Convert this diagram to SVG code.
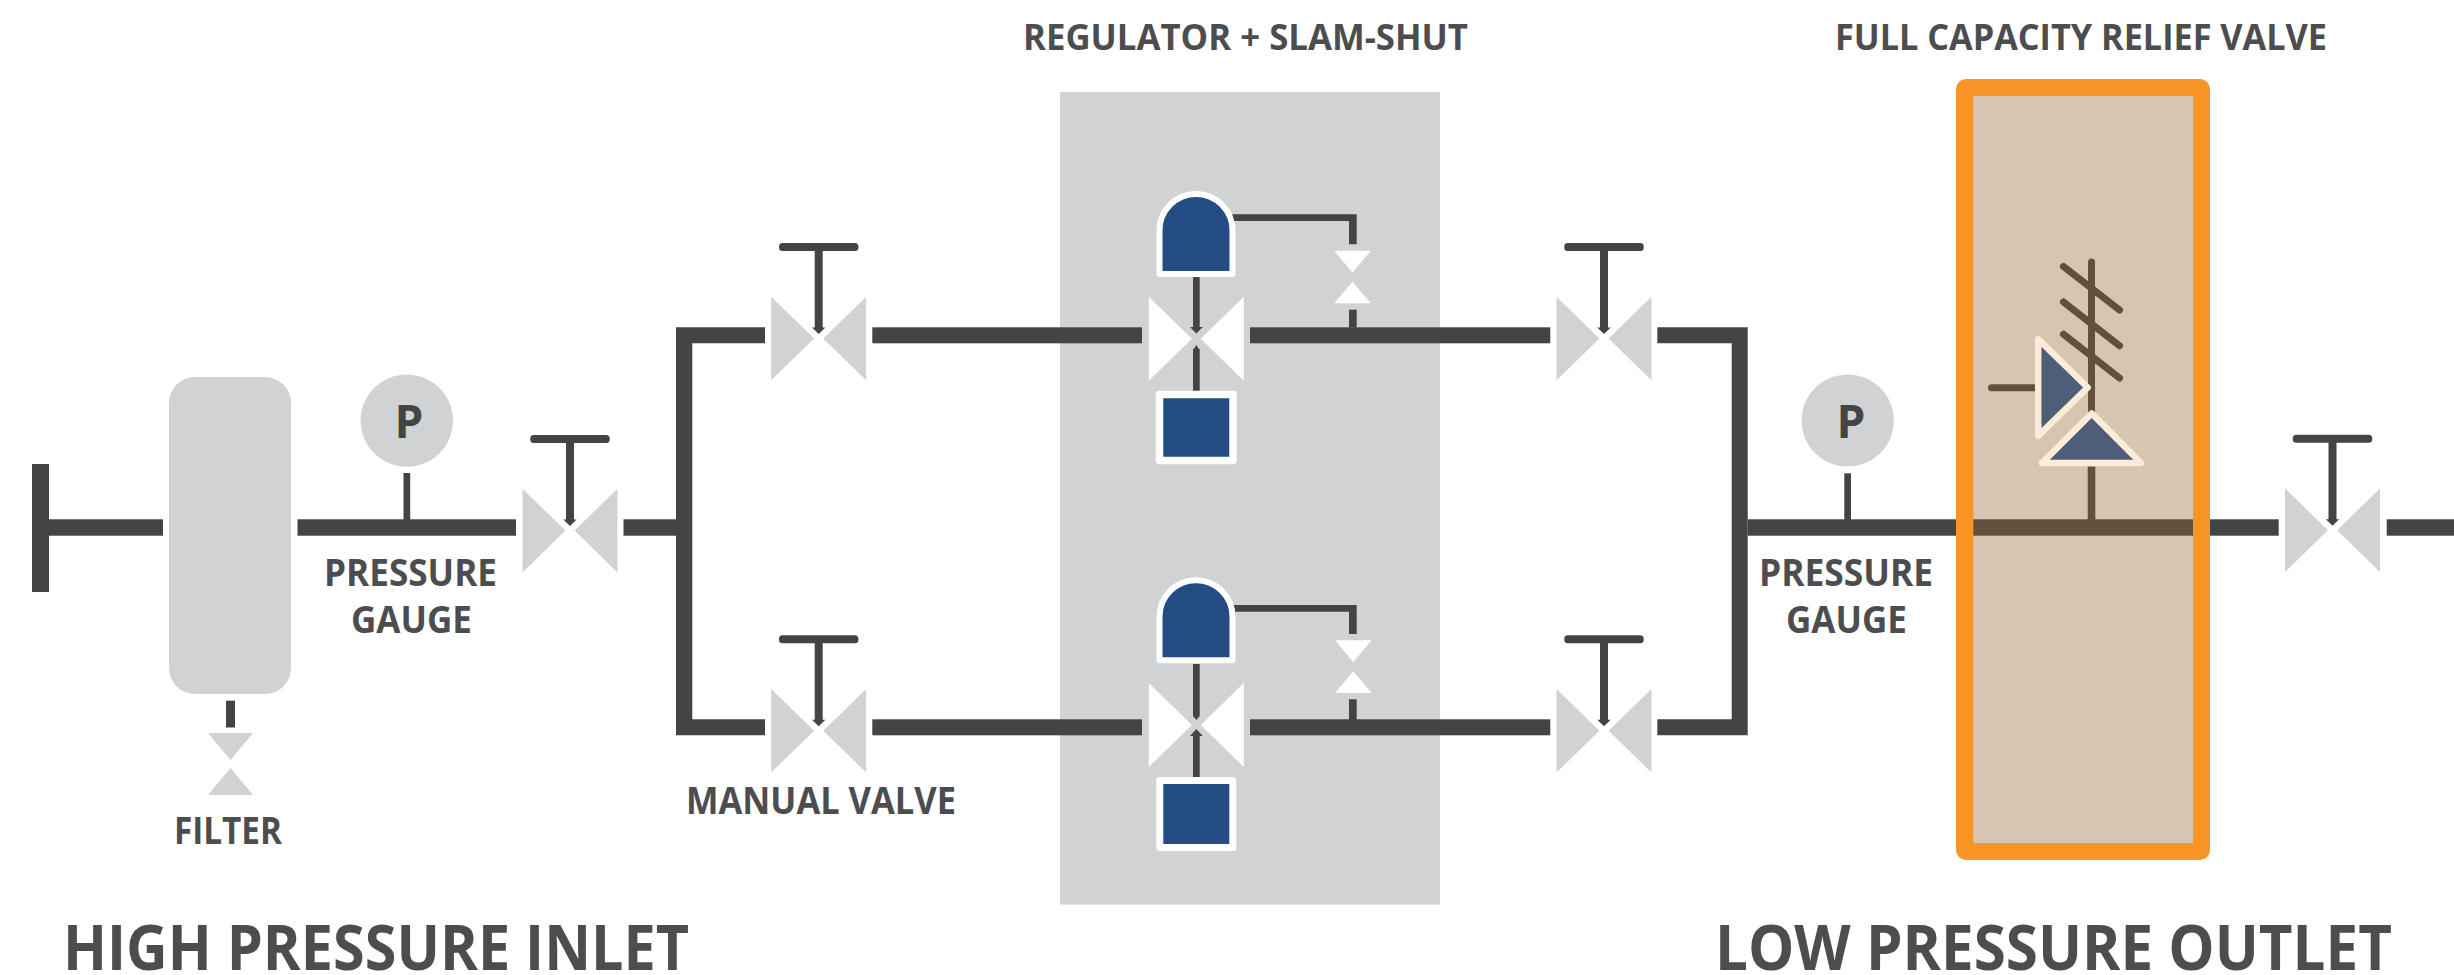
<svg xmlns="http://www.w3.org/2000/svg" xmlns:xlink="http://www.w3.org/1999/xlink" width="2454" height="975" viewBox="0 0 2454 975">
  <style>
    text { font-family: "Open Sans", "Noto Sans", "Liberation Sans", sans-serif; font-weight: 700; fill: #4d4d4f; }
    .label { font-size: 37px; }
    .head { font-size: 36.5px; }
    .big { font-size: 63px; }
    .p { font-size: 46px; fill: #444444; }
    .pipe { fill: #444444; }
    .grey { fill: #d0d2d3; }
    .white { fill: #ffffff; }
    .blue { fill: #234c85; stroke: #ffffff; stroke-linejoin: round; }
    .brown { fill: #62503c; }
    .bline { stroke: #62503c; stroke-width: 7; stroke-linecap: round; fill: none; }
    .navy { fill: #4e5d78; stroke: #fbebd9; stroke-width: 6.5; stroke-linejoin: round; }
  </style>
  <defs>
    <g id="handwheel">
      <rect class="pipe" x="-39.7" y="-95.5" width="79.4" height="8" rx="3.5"/>
      <rect class="pipe" x="-4" y="-90" width="8" height="80"/>
      <polygon class="pipe" points="-6.7,-11 6.7,-11 0,-4.5"/>
    </g>
    <g id="valve-grey">
      <polygon class="grey" points="-47.5,-41.8 -4.6,0 -47.5,41.8"/>
      <polygon class="grey" points="47.5,-41.8 4.6,0 47.5,41.8"/>
      <use xlink:href="#handwheel" href="#handwheel"/>
    </g>
    <g id="valve-white">
      <polygon class="white" points="-47.5,-42 -4.4,0 -47.5,42"/>
      <polygon class="white" points="47.5,-42 4.4,0 47.5,42"/>
    </g>
    <g id="pilot-valve">
      <polygon class="white" points="-18.3,0 18.3,0 0,22"/>
      <polygon class="white" points="-18.3,52.6 18.3,52.6 0,31"/>
    </g>
  </defs>

  <rect width="2454" height="975" fill="#ffffff"/>

  <g id="regulator-zone">
    <rect class="grey" x="1060" y="92" width="380" height="812.5"/>
  </g>

  <g id="connectors">
    <rect class="pipe" x="32" y="464" width="17" height="128"/>
    <rect class="pipe" x="49" y="519.3" width="114" height="16.4"/>
    <rect class="pipe" x="297.5" y="519.3" width="218.5" height="16.4"/>
    <rect class="pipe" x="623.5" y="519.3" width="53" height="16.4"/>
    <path class="pipe" d="M765 327.3H676V735.3H765V719.3H692.3V343.3H765Z"/>
    <rect class="pipe" x="872.3" y="327.3" width="269.7" height="16"/>
    <rect class="pipe" x="872.3" y="719.3" width="269.7" height="16"/>
    <rect class="pipe" x="1250" y="327.3" width="300.3" height="16"/>
    <rect class="pipe" x="1250" y="719.3" width="300.3" height="16"/>
    <path class="pipe" d="M1657.3 327.3H1747.7V735.3H1657.3V719.3H1731.7V343.3H1657.3Z"/>
    <rect class="pipe" x="1747.7" y="519.3" width="531" height="16.4"/>
    <rect class="pipe" x="2386.7" y="519.3" width="67.3" height="16.4"/>
    <rect class="pipe" x="403.5" y="473" width="6.7" height="47"/>
    <rect class="pipe" x="1844.3" y="473.3" width="6.7" height="47"/>
    <rect class="pipe" x="226" y="700.7" width="9" height="26.8"/>
    <path class="pipe" d="M1232 214.3H1356.7V244.3H1349V221H1232Z"/>
    <rect class="pipe" x="1349" y="309.7" width="7.7" height="18"/>
    <path class="pipe" d="M1232 605H1356.7V634H1349V611.7H1232Z"/>
    <rect class="pipe" x="1349" y="699.3" width="7.7" height="21"/>
  </g>

  <g id="filter">
    <rect class="grey" x="169" y="377" width="122" height="317" rx="26"/>
    <polygon class="grey" points="208,733 253,733 230.5,760"/>
    <polygon class="grey" points="208,795 253,795 230.5,768"/>
    <text class="label" x="174" y="844" textLength="108" lengthAdjust="spacingAndGlyphs">FILTER</text>
  </g>

  <g id="gauge-inlet">
    <circle class="grey" cx="406.8" cy="420.6" r="46.2"/>
    <text class="p" x="409" y="438.3" text-anchor="middle">P</text>
    <text class="label" x="324" y="586" textLength="173" lengthAdjust="spacingAndGlyphs">PRESSURE</text>
    <text class="label" x="351" y="633" textLength="121" lengthAdjust="spacingAndGlyphs">GAUGE</text>
  </g>

  <g id="valve-inlet"><use xlink:href="#valve-grey" href="#valve-grey" x="570" y="530.6"/></g>
  <g id="valve-top-left"><use xlink:href="#valve-grey" href="#valve-grey" x="818.7" y="338.5"/></g>
  <g id="valve-bottom-left">
    <use xlink:href="#valve-grey" href="#valve-grey" x="818.7" y="730.7"/>
    <text class="label" x="686" y="814" textLength="270" lengthAdjust="spacingAndGlyphs">MANUAL VALVE</text>
  </g>
  <g id="valve-top-right"><use xlink:href="#valve-grey" href="#valve-grey" x="1604" y="338.5"/></g>
  <g id="valve-bottom-right"><use xlink:href="#valve-grey" href="#valve-grey" x="1604" y="730.7"/></g>

  <g id="regulator-top">
    <rect class="pipe" x="1193" y="277" width="6.7" height="50"/>
    <polygon class="pipe" points="1190,327 1202.8,327 1196.3,333.5"/>
    <rect class="pipe" x="1193" y="349" width="6.7" height="42"/>
    <polygon class="pipe" points="1193,350 1199.7,350 1196.3,345"/>
    <use xlink:href="#valve-white" href="#valve-white" x="1196.3" y="338.7"/>
    <path class="blue" stroke-width="6" d="M1159.5 273.9V230.5A36.5 36.5 0 0 1 1232.5 230.5V273.9Z"/>
    <rect class="blue" stroke-width="7.5" x="1159.5" y="394.5" width="73.5" height="66"/>
    <use xlink:href="#pilot-valve" href="#pilot-valve" x="1352.5" y="250.7"/>
  </g>

  <g id="regulator-bottom">
    <rect class="pipe" x="1193" y="664" width="6.7" height="52"/>
    <polygon class="pipe" points="1193,716 1199.7,716 1196.3,720"/>
    <rect class="pipe" x="1193" y="735" width="6.7" height="42"/>
    <polygon class="pipe" points="1190,736 1202.8,736 1196.3,729"/>
    <use xlink:href="#valve-white" href="#valve-white" x="1196.3" y="725"/>
    <path class="blue" stroke-width="6" d="M1159.5 660.3V616.8A36.5 36.5 0 0 1 1232.5 616.8V660.3Z"/>
    <rect class="blue" stroke-width="7" x="1159.8" y="780.5" width="73" height="67"/>
    <use xlink:href="#pilot-valve" href="#pilot-valve" x="1353.3" y="640.3"/>
  </g>
  <text class="head" x="1023" y="50" textLength="445" lengthAdjust="spacingAndGlyphs">REGULATOR + SLAM-SHUT</text>

  <g id="gauge-outlet">
    <circle class="grey" cx="1847.7" cy="420.5" r="46.1"/>
    <text class="p" x="1851" y="438.3" text-anchor="middle">P</text>
    <text class="label" x="1759" y="586" textLength="174" lengthAdjust="spacingAndGlyphs">PRESSURE</text>
    <text class="label" x="1786" y="633" textLength="121" lengthAdjust="spacingAndGlyphs">GAUGE</text>
  </g>

  <g id="relief-valve">
    <rect x="1956" y="79" width="254" height="781" rx="10" fill="#f99527"/>
    <rect x="1973.3" y="96" width="219.7" height="747" fill="#d7c5b0"/>
    <rect class="brown" x="1973.3" y="519.3" width="219.7" height="16.4"/>
    <line class="bline" x1="2091.5" y1="262" x2="2091.5" y2="412" stroke-linecap="butt"/>
    <rect class="brown" x="2087.7" y="466.4" width="7.6" height="54"/>
    <line class="bline" x1="2063.5" y1="266.5" x2="2119.5" y2="310"/>
    <line class="bline" x1="2063.5" y1="302" x2="2119.5" y2="345.7"/>
    <line class="bline" x1="2063.5" y1="334.3" x2="2119.5" y2="378"/>
    <line class="bline" x1="1991.5" y1="387.8" x2="2036" y2="387.8"/>
    <polygon class="navy" points="2038.2,339.2 2087.7,387.5 2038.2,435.8"/>
    <polygon class="navy" points="2091.7,413.5 2141,463 2042,463"/>
    <text class="head" x="1835" y="50" textLength="492" lengthAdjust="spacingAndGlyphs">FULL CAPACITY RELIEF VALVE</text>
  </g>

  <g id="valve-outlet"><use xlink:href="#valve-grey" href="#valve-grey" x="2332.5" y="530.2"/></g>

  <text class="big" x="63" y="970" textLength="626" lengthAdjust="spacingAndGlyphs">HIGH PRESSURE INLET</text>
  <text class="big" x="1715" y="970" textLength="677" lengthAdjust="spacingAndGlyphs">LOW PRESSURE OUTLET</text>
</svg>
